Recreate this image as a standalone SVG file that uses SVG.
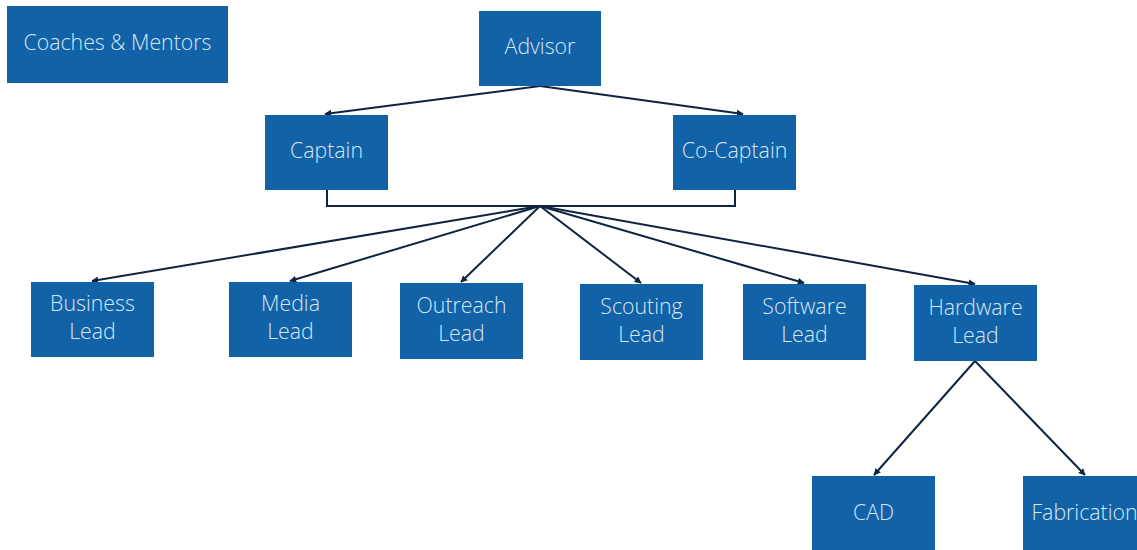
<svg xmlns="http://www.w3.org/2000/svg" width="1137" height="550" viewBox="0 0 1137 550">
<defs>
<style>
.box{fill:#1262a7}
.t{font-family:"Open Sans","Noto Sans",sans-serif;font-weight:300;font-size:21.3px;fill:#d8e6f3;text-anchor:middle}
.c{fill:none;stroke:#0f2440;stroke-width:2}
</style>
<marker id="ah" viewBox="0 0 10 10" refX="9" refY="5" markerWidth="7" markerHeight="7" orient="auto" markerUnits="userSpaceOnUse">
<path d="M0,0 L10,5 L0,10 z" fill="#0f2440"/>
</marker>
</defs>
<rect width="1137" height="550" fill="#ffffff"/>
<g id="connectors">
<path class="c" d="M540,86 L325,114" marker-end="url(#ah)"/>
<path class="c" d="M540,86 L743,114" marker-end="url(#ah)"/>
<path class="c" d="M327,190 V206 H735 V190"/>
<path class="c" d="M540,206 L92,281" marker-end="url(#ah)"/>
<path class="c" d="M540,206 L290,281" marker-end="url(#ah)"/>
<path class="c" d="M540,206 L461,282" marker-end="url(#ah)"/>
<path class="c" d="M540,206 L641,283" marker-end="url(#ah)"/>
<path class="c" d="M540,206 L804,283" marker-end="url(#ah)"/>
<path class="c" d="M540,206 L975,284" marker-end="url(#ah)"/>
<path class="c" d="M975,361 L874,475" marker-end="url(#ah)"/>
<path class="c" d="M975,361 L1085,475" marker-end="url(#ah)"/>
</g>
<g id="coaches"><rect class="box" x="7" y="6" width="221" height="77"/><text class="t" x="117.5" y="50">Coaches &amp; Mentors</text></g>
<g id="advisor"><rect class="box" x="479" y="11" width="122" height="75"/><text class="t" x="540" y="54">Advisor</text></g>
<g id="captain"><rect class="box" x="265" y="115" width="123" height="75"/><text class="t" x="326.5" y="158">Captain</text></g>
<g id="cocaptain"><rect class="box" x="673" y="115" width="123" height="75"/><text class="t" x="734.5" y="158">Co-Captain</text></g>
<g id="business"><rect class="box" x="31" y="282" width="123" height="75"/><text class="t" x="92.5" y="311">Business</text><text class="t" x="92.5" y="339">Lead</text></g>
<g id="media"><rect class="box" x="229" y="282" width="123" height="75"/><text class="t" x="290.5" y="311">Media</text><text class="t" x="290.5" y="339">Lead</text></g>
<g id="outreach"><rect class="box" x="400" y="283" width="123" height="76"/><text class="t" x="461.5" y="313">Outreach</text><text class="t" x="461.5" y="341">Lead</text></g>
<g id="scouting"><rect class="box" x="580" y="284" width="123" height="76"/><text class="t" x="641.5" y="314">Scouting</text><text class="t" x="641.5" y="342">Lead</text></g>
<g id="software"><rect class="box" x="743" y="284" width="123" height="76"/><text class="t" x="804.5" y="314">Software</text><text class="t" x="804.5" y="342">Lead</text></g>
<g id="hardware"><rect class="box" x="914" y="285" width="123" height="76"/><text class="t" x="975.5" y="315">Hardware</text><text class="t" x="975.5" y="343">Lead</text></g>
<g id="cad"><rect class="box" x="812" y="476" width="123" height="74"/><text class="t" x="873.5" y="520">CAD</text></g>
<g id="fabrication"><rect class="box" x="1023" y="476" width="123" height="74"/><text class="t" x="1084.5" y="520">Fabrication</text></g>
</svg>
